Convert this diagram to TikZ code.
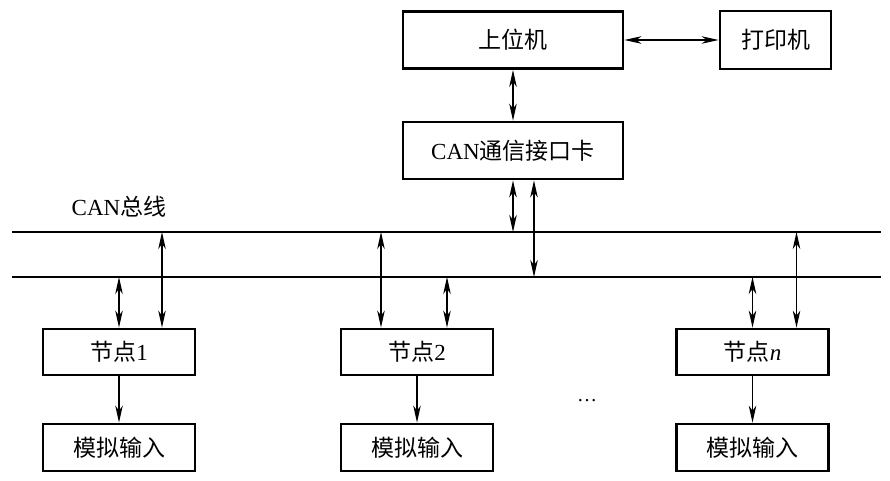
\documentclass[tikz,border=0pt]{standalone}
\usepackage{fontspec}
\setmainfont{Liberation Serif}
\newfontfamily\cjk{Noto Sans CJK SC}
\usetikzlibrary{arrows.meta}
\begin{document}
\begin{tikzpicture}[x=1pt,y=-1pt,
  box/.style={draw,line width=2.8pt,inner sep=0pt,font=\fontsize{23}{27}\selectfont},
  wide/.style={box,minimum width=220pt,minimum height=57pt},
  small/.style={box,minimum width=152pt,minimum height=46pt},
  tip/.tip={Stealth[length=17pt,width=7.5pt,inset=5pt]},
  conn/.style={line width=1.2pt,tip-tip},
  one/.style={line width=1.2pt,-tip},
  bus/.style={line width=1.3pt}]
\useasboundingbox (0,0) rectangle (890,480);
% boxes
\node[wide] (host) at (513,40) {{\cjk 上位机}};
\node[box,minimum width=111pt,minimum height=58pt] (prn) at (775.5,40) {{\cjk 打印机}};
\node[wide] (card) at (513,150.5) {CAN{\cjk 通信接口卡}};
\node[small] (n1) at (119,352) {{\cjk 节点}1};
\node[small] (n2) at (417,352) {{\cjk 节点}2};
\node[small] (nn) at (752.5,352) {{\cjk 节点}\textit{n}};
\node[small,minimum height=47pt] (a1) at (119,447.5) {{\cjk 模拟输入}};
\node[small,minimum height=47pt] (a2) at (417,447.5) {{\cjk 模拟输入}};
\node[small,minimum height=47pt] (an) at (752.5,447.5) {{\cjk 模拟输入}};
\node[font=\fontsize{23}{27}\selectfont] (buslabel) at (119,207) {CAN{\cjk 总线}};
\node[font=\fontsize{20}{24}\selectfont] (dots) at (587,401) {…};
% bus
\coordinate (tl) at (12,232); \coordinate (tr) at (881,232);
\coordinate (bl) at (12,277); \coordinate (br) at (881,277);
\draw[bus] (tl) -- (tr);
\draw[bus] (bl) -- (br);
% top connections
\draw[conn] (host.east) -- (prn.west);
\draw[conn] (host.south) -- (card.north);
\draw[conn] (card.south) -- (card.south |- tl);
\draw[conn] ([xshift=21pt]card.south) -- ([xshift=21pt]card.south |- bl);
% node connections
\draw[conn] (n1.north) -- (n1.north |- bl);
\draw[conn] ([xshift=43pt]n1.north) -- ([xshift=43pt]n1.north |- tl);
\draw[conn] ([xshift=-36pt]n2.north) -- ([xshift=-36pt]n2.north |- tl);
\draw[conn] ([xshift=30pt]n2.north) -- ([xshift=30pt]n2.north |- bl);
\draw[conn] (nn.north) -- (nn.north |- bl);
\draw[conn] ([xshift=44pt]nn.north) -- ([xshift=44pt]nn.north |- tl);
% outputs
\draw[one] (n1.south) -- (a1.north);
\draw[one] (n2.south) -- (a2.north);
\draw[one] (nn.south) -- (an.north);
\end{tikzpicture}
\end{document}
